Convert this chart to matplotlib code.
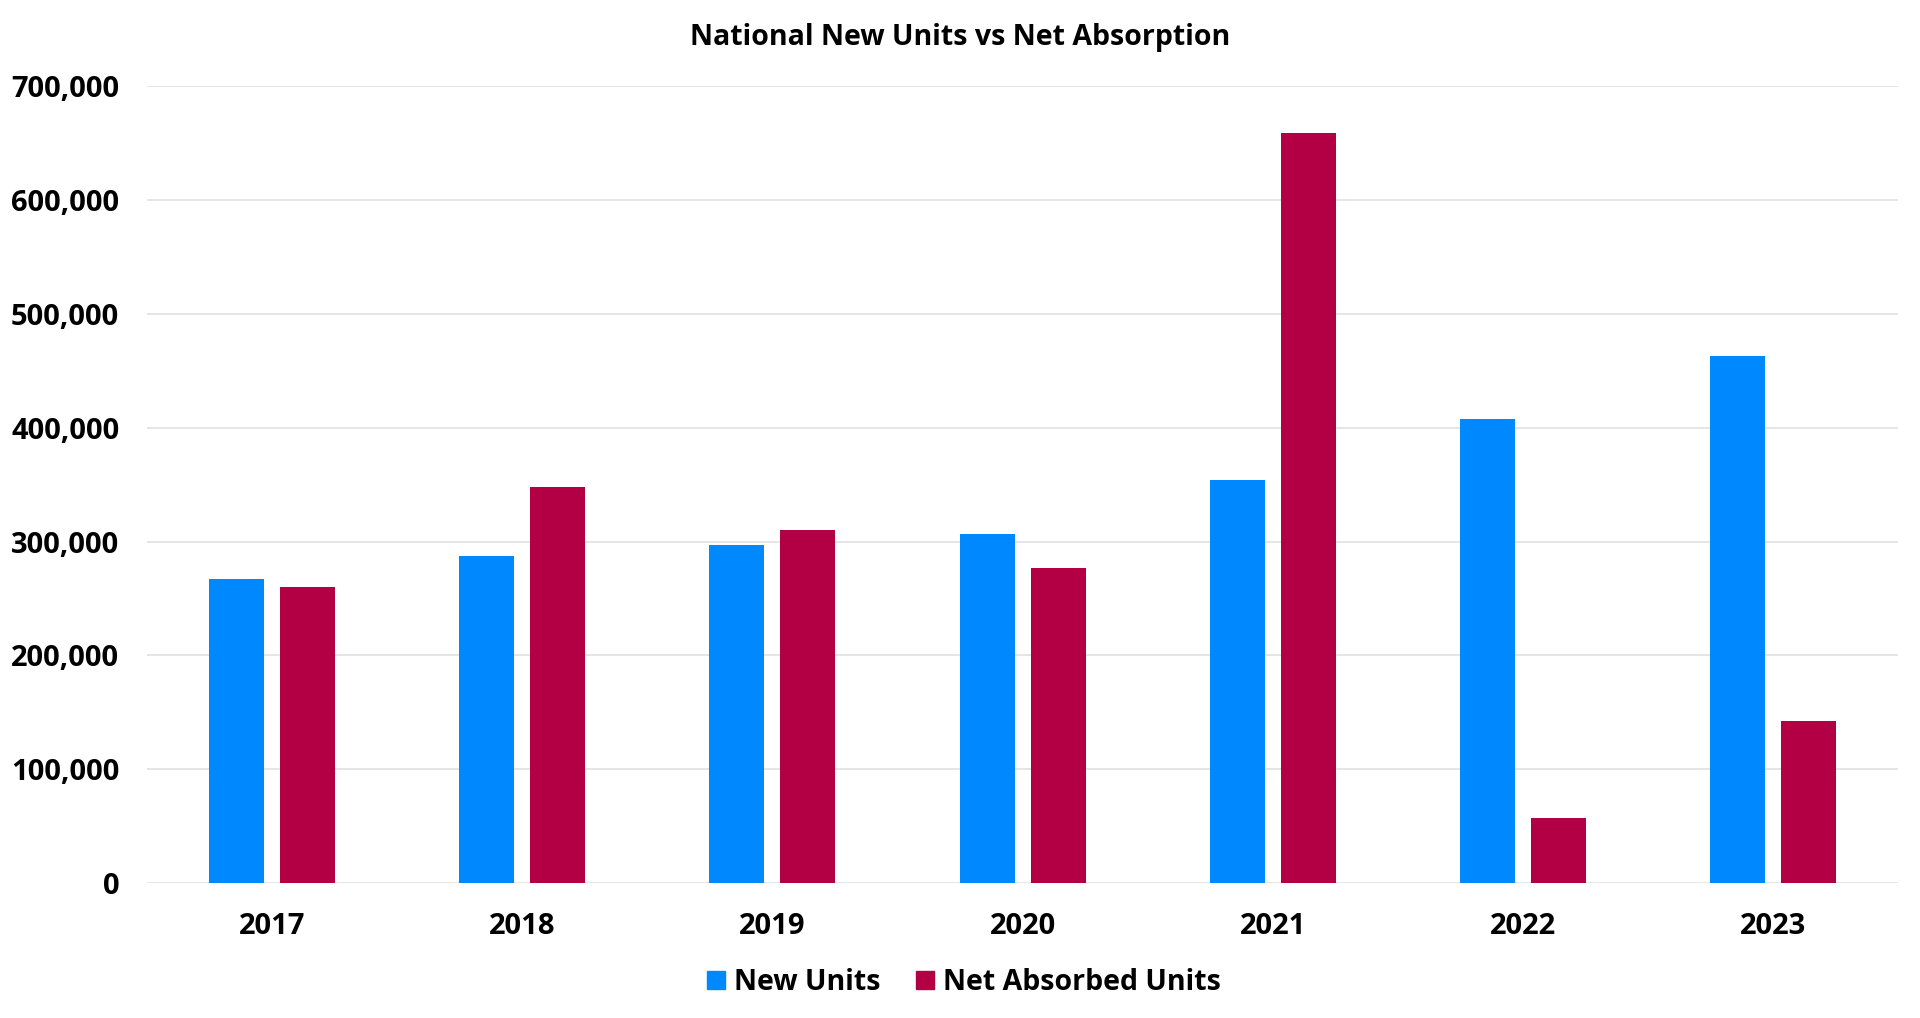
import numpy as np
import matplotlib
matplotlib.use("Agg")
import matplotlib.pyplot as plt
from matplotlib.ticker import FuncFormatter
from matplotlib.lines import Line2D

plt.rcParams['font.family'] = ['Open Sans', 'DejaVu Sans']
plt.rcParams['font.weight'] = 'bold'

years = ['2017', '2018', '2019', '2020', '2021', '2022', '2023']
new_units = [267000, 287000, 297000, 307000, 354000, 408000, 463000]
net_absorbed = [260000, 348000, 310000, 277000, 659000, 57000, 142000]

blue = '#0088ff'
red = '#b30045'

fig = plt.figure(figsize=(19.2, 10.18), dpi=100)
ax = fig.add_axes([0.0766, 0.1325, 0.912, 0.783])

x = np.arange(len(years))
w = 0.22
off = 0.142
ax.bar(x - off, new_units, w, color=blue, zorder=3)
ax.bar(x + off, net_absorbed, w, color=red, zorder=3)

ax.set_xlim(-0.5, len(years) - 0.5)
ax.set_ylim(0, 700000)
ax.set_yticks(np.arange(0, 700001, 100000))
ax.yaxis.set_major_formatter(FuncFormatter(lambda v, p: f'{int(v):,}'))
ax.set_xticks(x)
ax.set_xticklabels(years)
ax.grid(axis='y', color='#e0e0e0', linewidth=1.2, zorder=0)
for s in ax.spines.values():
    s.set_visible(False)
ax.tick_params(axis='both', length=0, labelsize=21)
ax.tick_params(axis='y', pad=20)
ax.tick_params(axis='x', pad=21)

fig.text(0.5, 0.963, 'National New Units vs Net Absorption', fontsize=20.5,
         fontweight='bold', ha='center', va='center')

handles = [Line2D([], [], marker='s', linestyle='none', color=blue, markersize=12.5),
           Line2D([], [], marker='s', linestyle='none', color=red, markersize=12.5)]
fig.legend(handles, ['New Units', 'Net Absorbed Units'], loc='center', bbox_to_anchor=(0.501, 0.035),
           ncol=2, frameon=False, fontsize=20.5, handlelength=0.9, handletextpad=0.2,
           columnspacing=1.1)

fig.savefig('out.png', dpi=100, facecolor='white')
